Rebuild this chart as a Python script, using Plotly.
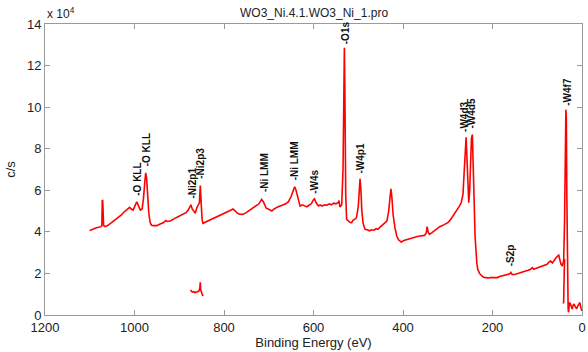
import plotly.graph_objects as go

# ---- data (counts in units of 1e4 c/s) ----
survey_be = [1100, 1095, 1090, 1085, 1080, 1075, 1073, 1072, 1071, 1069, 1066, 1060, 1055, 1050, 1045,
             1040, 1035, 1030, 1025, 1020, 1015, 1011, 1007, 1003, 999, 995, 991, 987, 983, 980, 977,
             975, 973, 971, 968, 965, 962, 958, 950, 945, 940, 935, 930, 927, 920, 915, 910, 905, 900,
             895, 890, 885, 880, 876, 874, 871, 867, 864, 861, 858, 855, 853, 851, 849, 847, 843, 838,
             830, 820, 810, 800, 790, 784, 780, 776, 770, 765, 759, 752, 745, 738, 730, 722, 716, 712,
             706, 700, 693, 688, 680, 670, 662, 656, 650, 645, 642, 639, 635, 630, 625, 620, 615, 610,
             605, 600, 598, 594, 589, 585, 581, 575, 570, 565, 560, 555, 550, 545, 543, 541, 537, 534,
             532, 531, 530, 529, 528, 526, 522, 518, 515, 512, 508, 504, 500, 498, 496, 494, 492, 489,
             485, 480, 475, 470, 465, 460, 456, 450, 445, 440, 436, 432, 429, 427, 425, 422, 418, 414,
             410, 406, 404, 398, 392, 386, 380, 374, 368, 362, 356, 352, 348, 346, 344, 341, 336, 330,
             324, 318, 312, 306, 300, 295, 290, 285, 280, 275, 270, 266, 263, 261, 259, 257, 255, 253,
             251, 249, 247, 245, 243, 241, 239, 237, 235, 233, 229, 225, 220, 215, 210, 205, 200, 195,
             189, 184, 178, 172, 166, 161, 159, 156, 150, 144, 138, 132, 126, 120, 115, 111, 108, 102,
             96, 90, 84, 78, 74, 70, 66, 62, 58, 54, 52, 50, 47, 44, 41, 39, 37, 36, 35, 34, 33, 32,
             31, 30, 28, 26, 24, 22, 20, 18, 15, 12, 9, 5, 2, 0]
survey_cps = [4.07, 4.12, 4.15, 4.20, 4.22, 4.25, 4.30, 5.53, 5.50, 4.30, 4.25, 4.30, 4.38, 4.45, 4.52,
              4.60, 4.70, 4.80, 4.92, 5.02, 5.12, 5.18, 5.10, 5.05, 5.25, 5.45, 5.25, 5.05, 5.10, 5.60, 6.40,
              6.84, 6.60, 5.70, 4.90, 4.45, 4.32, 4.30, 4.30, 4.35, 4.40, 4.45, 4.55, 4.50, 4.52, 4.60, 4.65, 4.70, 4.75,
              4.80, 4.88, 4.92, 5.05, 5.20, 5.30, 5.10, 4.95, 4.90, 5.15, 5.25, 5.40, 6.23, 5.20, 4.60, 4.41, 4.45, 4.50,
              4.55, 4.65, 4.75, 4.85, 4.95, 5.05, 5.10, 5.00, 4.90, 4.85, 4.84, 4.90, 5.00, 5.08, 5.20, 5.35, 5.56, 5.45,
              5.15, 5.08, 5.00, 5.10, 5.20, 5.28, 5.35, 5.45, 5.70, 6.00, 6.17, 6.00, 5.60, 5.24, 5.30, 5.25, 5.20, 5.28,
              5.35, 5.55, 5.59, 5.40, 5.25, 5.30, 5.24, 5.30, 5.28, 5.35, 5.30, 5.38, 5.35, 5.40, 5.50, 5.20, 5.30, 7.00,
              10.5, 12.86, 11.0, 8.0, 5.8, 4.60, 4.50, 4.45, 4.44, 4.55, 4.60, 4.68, 5.20, 6.00, 6.55, 6.00, 5.00, 4.40,
              4.12, 4.10, 4.05, 4.10, 4.08, 4.15, 4.12, 4.25, 4.35, 4.42, 4.52, 5.00, 5.80, 6.07, 5.70, 4.80, 4.20, 3.80,
              3.62, 3.55, 3.51, 3.58, 3.62, 3.68, 3.70, 3.75, 3.78, 3.80, 3.82, 3.83, 3.95, 4.25, 4.00, 3.88, 3.95, 4.05,
              4.15, 4.25, 4.30, 4.38, 4.44, 4.55, 4.70, 4.85, 5.00, 5.20, 5.40, 5.80, 7.00, 8.30, 8.55, 7.50, 6.00, 5.40,
              6.00, 7.80, 8.50, 8.68, 7.50, 5.50, 3.80, 3.00, 2.50, 2.20, 2.00, 1.90, 1.82, 1.80, 1.78, 1.80, 1.80, 1.82,
              1.80, 1.85, 1.88, 1.90, 1.92, 1.98, 2.05, 1.95, 1.95, 2.00, 2.05, 2.08, 2.12, 2.15, 2.20, 2.28, 2.20, 2.25,
              2.30, 2.35, 2.38, 2.44, 2.55, 2.60, 2.50, 2.65, 2.75, 2.85, 2.88, 2.70, 2.45, 2.36, 2.60, 4.50, 8.00, 9.88, 9.50, 6.00, 2.50, 0.80,
              0.30, 0.13, 0.60, 0.55, 0.35, 0.29, 0.45, 0.53, 0.40, 0.30, 0.45, 0.60, 0.30, 0.20]

ni_be = [875, 873, 871, 868, 865, 862, 859, 856, 854, 853, 852, 850, 848, 846]
ni_cps = [1.20, 1.15, 1.10, 1.12, 1.08, 1.10, 1.12, 1.15, 1.30, 1.57, 1.20, 1.05, 0.95, 0.92]

w_be = [42, 41, 40, 39]
w_cps = [0.55, 0.62, 1.80, 2.70]

label_text = ["-O KLL", "-O KLL", "-Ni2p1", "-Ni2p3", "-Ni LMM", "-Ni LMM", "-W4s", "-O1s",
              "-W4p1", "-W4d3", "-W4d5", "-S2p", "-W4f7"]
label_be = [995, 974, 870, 852, 711, 642, 598, 528, 496, 261, 246, 159, 33]
label_y = [5.70, 7.09, 5.56, 6.52, 5.88, 6.44, 5.80, 12.99, 6.76, 8.77, 8.92, 2.29, 10.03]

x_ticks = [1200, 1000, 800, 600, 400, 200, 0]
y_ticks = [0, 2, 4, 6, 8, 10, 12, 14]

RED = "#ff0000"
FONT = "Liberation Sans, Arial, sans-serif"

fig = go.Figure()
for xs, ys in [(survey_be, survey_cps), (ni_be, ni_cps), (w_be, w_cps)]:
    fig.add_trace(go.Scatter(x=xs, y=ys, mode="lines",
                             line=dict(color=RED, width=1.6), showlegend=False,
                             hoverinfo="skip"))

for t, bx, by in zip(label_text, label_be, label_y):
    fig.add_annotation(x=bx, y=by, text="<b>" + t + "</b>", textangle=-90, showarrow=False,
                       xanchor="center", yanchor="bottom",
                       font=dict(family=FONT, size=10, color="#111"),
                       bgcolor="rgba(0,0,0,0)", borderpad=0)

fig.add_annotation(x=0, y=1, xref="paper", yref="paper", xanchor="left", yanchor="bottom",
                   text="x 10<sup>4</sup>", showarrow=False, yshift=1,
                   font=dict(family=FONT, size=12, color="#222"))
fig.add_annotation(x=0.5, y=1, xref="paper", yref="paper", xanchor="center", yanchor="bottom",
                   text="WO3_Ni.4.1.WO3_Ni_1.pro", showarrow=False, yshift=2,
                   font=dict(family=FONT, size=12, color="#222"))

axis_common = dict(showline=True, mirror="ticks", linecolor="#9a9a9a", linewidth=1,
                   ticks="inside", ticklen=5, tickcolor="#9a9a9a", showgrid=False,
                   zeroline=False, ticklabeloverflow="allow",
                   tickfont=dict(family=FONT, size=13, color="#222"))

fig.update_xaxes(range=[1200, 0], tickvals=x_ticks, ticktext=[str(v) for v in x_ticks],
                 title=dict(text="Binding Energy (eV)", font=dict(family=FONT, size=13, color="#222"),
                            standoff=2),
                 **axis_common)
fig.update_yaxes(range=[0, 14], tickvals=y_ticks, ticktext=[str(v) for v in y_ticks],
                 title=dict(text="c/s", font=dict(family=FONT, size=13, color="#222"), standoff=8),
                 **axis_common)

fig.update_layout(width=588, height=352, margin=dict(l=45, r=2, t=24, b=37),
                  plot_bgcolor="white", paper_bgcolor="white")

fig.write_html("out.html")
